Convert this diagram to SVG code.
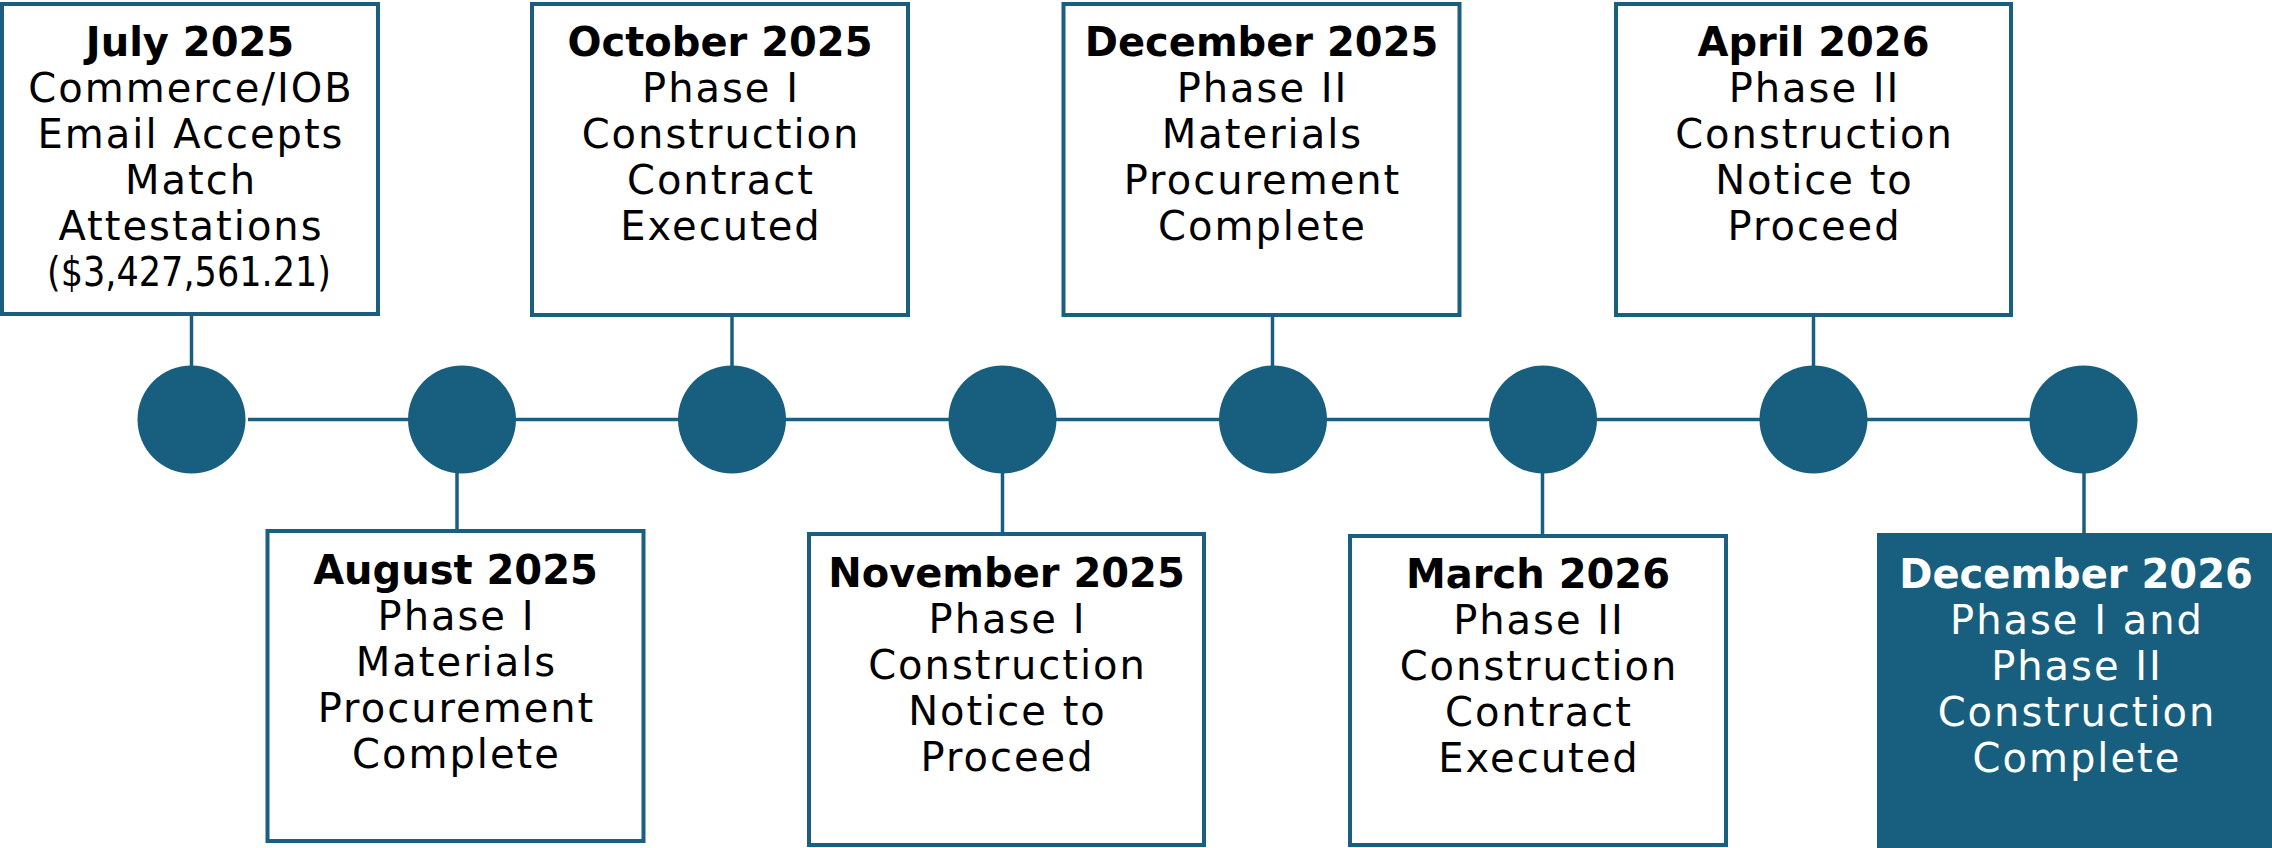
<svg xmlns="http://www.w3.org/2000/svg" width="2272" height="848" viewBox="0 0 2272 848">
<style>
.box{fill:#ffffff;stroke:#1a5f80;stroke-width:4}
.boxf{fill:#185f7f}
.dot{fill:#185f7f}
.ln{stroke:#1a5f80;stroke-width:3.5;fill:none}
text{font-family:"DejaVu Sans","Open Sans",sans-serif;font-size:40px;text-anchor:middle;fill:#000000}
.t{letter-spacing:2px}
.h{font-weight:bold}
.w{fill:#ffffff}
</style>
<rect x="0" y="0" width="2272" height="848" fill="#ffffff"/>
<g id="connectors">
<line class="ln" x1="248" y1="419.5" x2="2040" y2="419.5"/>
<line class="ln" x1="191.5" y1="316" x2="191.5" y2="368"/>
<line class="ln" x1="732" y1="316" x2="732" y2="368"/>
<line class="ln" x1="1272.5" y1="316" x2="1272.5" y2="368"/>
<line class="ln" x1="1813.5" y1="316" x2="1813.5" y2="368"/>
<line class="ln" x1="457" y1="471" x2="457" y2="530"/>
<line class="ln" x1="1002.5" y1="471" x2="1002.5" y2="533"/>
<line class="ln" x1="1542.5" y1="471" x2="1542.5" y2="535"/>
<line class="ln" x1="2084" y1="471" x2="2084" y2="534"/>
</g>
<g id="dots">
<circle class="dot" cx="191.5" cy="419.5" r="54"/>
<circle class="dot" cx="462" cy="419.5" r="54"/>
<circle class="dot" cx="732" cy="419.5" r="54"/>
<circle class="dot" cx="1002.5" cy="419.5" r="54"/>
<circle class="dot" cx="1273" cy="419.5" r="54"/>
<circle class="dot" cx="1543" cy="419.5" r="54"/>
<circle class="dot" cx="1813.5" cy="419.5" r="54"/>
<circle class="dot" cx="2083.5" cy="419.5" r="54"/>
</g>
<g id="n-jul2025">
<rect class="box" x="2" y="4" width="376" height="310"/>
<text x="190" y="56" class="h">July 2025</text>
<text x="191" y="102" class="t">Commerce/IOB</text>
<text x="191" y="148" class="t">Email Accepts</text>
<text x="191" y="194" class="t">Match</text>
<text x="191" y="240" class="t">Attestations</text>
<text x="189" y="286" textLength="284" lengthAdjust="spacingAndGlyphs">($3,427,561.21)</text>
</g>
<g id="n-aug2025">
<rect class="box" x="267.5" y="531" width="376" height="310"/>
<text x="455.5" y="584" class="h">August 2025</text>
<text x="456.5" y="630" class="t">Phase I</text>
<text x="456.5" y="676" class="t">Materials</text>
<text x="456.5" y="722" class="t">Procurement</text>
<text x="456.5" y="768" class="t">Complete</text>
</g>
<g id="n-oct2025">
<rect class="box" x="532" y="4" width="376" height="311"/>
<text x="720" y="56" class="h">October 2025</text>
<text x="721" y="102" class="t">Phase I</text>
<text x="721" y="148" class="t">Construction</text>
<text x="721" y="194" class="t">Contract</text>
<text x="721" y="240" class="t">Executed</text>
</g>
<g id="n-nov2025">
<rect class="box" x="809" y="534" width="395" height="311"/>
<text x="1006.5" y="587" class="h">November 2025</text>
<text x="1007.5" y="633" class="t">Phase I</text>
<text x="1007.5" y="679" class="t">Construction</text>
<text x="1007.5" y="725" class="t">Notice to</text>
<text x="1007.5" y="771" class="t">Proceed</text>
</g>
<g id="n-dec2025">
<rect class="box" x="1063.5" y="4" width="396" height="311"/>
<text x="1261.5" y="56" class="h">December 2025</text>
<text x="1262.5" y="102" class="t">Phase II</text>
<text x="1262.5" y="148" class="t">Materials</text>
<text x="1262.5" y="194" class="t">Procurement</text>
<text x="1262.5" y="240" class="t">Complete</text>
</g>
<g id="n-mar2026">
<rect class="box" x="1350" y="536" width="376" height="309"/>
<text x="1538" y="588" class="h">March 2026</text>
<text x="1539" y="634" class="t">Phase II</text>
<text x="1539" y="680" class="t">Construction</text>
<text x="1539" y="726" class="t">Contract</text>
<text x="1539" y="772" class="t">Executed</text>
</g>
<g id="n-apr2026">
<rect class="box" x="1616" y="4" width="395" height="311"/>
<text x="1813.5" y="56" class="h">April 2026</text>
<text x="1814.5" y="102" class="t">Phase II</text>
<text x="1814.5" y="148" class="t">Construction</text>
<text x="1814.5" y="194" class="t">Notice to</text>
<text x="1814.5" y="240" class="t">Proceed</text>
</g>
<g id="n-dec2026">
<rect class="boxf" x="1877" y="533" width="398" height="315"/>
<text x="2076" y="588" class="h w">December 2026</text>
<text x="2077" y="634" class="t w">Phase I and</text>
<text x="2077" y="680" class="t w">Phase II</text>
<text x="2077" y="726" class="t w">Construction</text>
<text x="2077" y="772" class="t w">Complete</text>
</g>
</svg>
